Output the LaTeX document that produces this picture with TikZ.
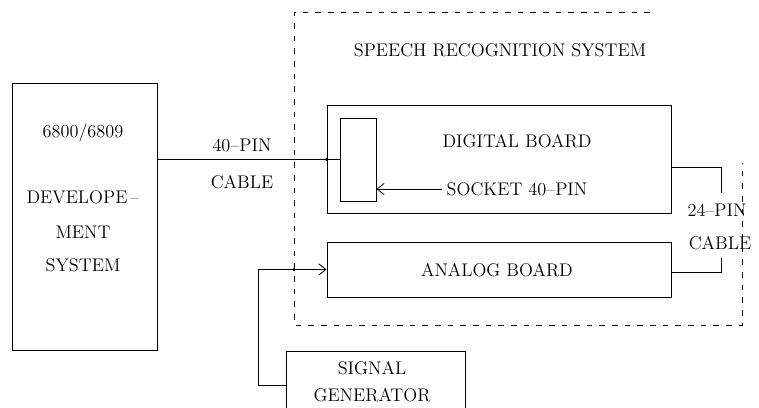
\documentclass[tikz,border=0pt]{standalone}
\usepackage{tikz}
\usetikzlibrary{positioning,arrows.meta,calc}

\begin{document}
\begin{tikzpicture}[
  x=0.025cm, y=-0.025cm,
  font=\fontsize{13}{15}\selectfont,
  block/.style={draw, line width=0.6pt, inner sep=0pt},
  wire/.style={line width=0.6pt},
  arrow/.style={wire, -{Straight Barb[length=5pt,width=8pt]}},
  frame/.style={line width=0.6pt, dash pattern=on 4pt off 5pt},
  junction/.style={circle, fill, inner sep=0pt, minimum size=2.5pt},
]
\useasboundingbox (0,0) rectangle (759,408);

% Development system on the left.
\node[block, minimum width=3.625cm, minimum height=6.675cm] (dev) at (84.5,216.5) {};
\node (cpu)  at (83,133) {6800/6809};
\node (devl) at (83,197) {DEVELOPE\,--};
\node (ment) at (83,232) {MENT};
\node (sys)  at (83,265) {SYSTEM};

% Speech recognition system: dashed frame, open at the top right.
\draw[frame] (650,12) -- (294,12) -- (294,325) -- (742,325) -- (742,163);
\node (srs) at (500,50) {SPEECH RECOGNITION SYSTEM};

% The two boards inside.
\node[block, minimum width=8.6cm, minimum height=2.7cm]   (digital) at (499,159) {};
\node (dlabel) at (517,141) {DIGITAL BOARD};
\node[block, minimum width=0.9cm, minimum height=2.075cm] (socket) at (358,159.5) {};
\node (slabel) at (517,189) {SOCKET 40--PIN};
\draw[arrow] (slabel.west) -- (socket.east |- slabel.west);

\node[block, minimum width=8.6cm, minimum height=1.375cm] (analog) at (499,269.5) {};
\node (alabel) at (497,270) {ANALOG BOARD};

% 40-pin cable from the development system to the socket.
\draw[wire] (dev.east |- socket.west) -- (socket.west);
\node[junction] at (digital.west |- socket.west) {};
\node (c40a) at (242,145) {40--PIN};
\node (c40b) at (242,182) {CABLE};

% 24-pin cable between the boards.
\node (c24a) at (717,210) {24--PIN};
\node (c24b) at (720,243) {CABLE};
\coordinate (t1) at (721,167);
\coordinate (t2) at (721,193);
\coordinate (b1) at (721,258);
\coordinate (b2) at (721,272);
\draw[wire] ($(digital.east)+(0,8)$) -- (t1) -- (t2);
\draw[wire] (b1) -- (b2) -- (b2 -| analog.east);

% Signal generator feeding the analog board.
\node[block, minimum width=4.475cm, minimum height=1.6cm] (sig) at (375.5,383) {};
\node[align=center, font=\fontsize{13}{19}\selectfont] (siglabel) at (372,382) {SIGNAL\\GENERATOR};
\coordinate (s1) at (258,385);
\draw[arrow] ($(sig.west)+(0,2)$) -- (s1) -- (s1 |- analog.west) -- (analog.west);
\node[junction] at (294,269.5) {};

\end{tikzpicture}
\end{document}
